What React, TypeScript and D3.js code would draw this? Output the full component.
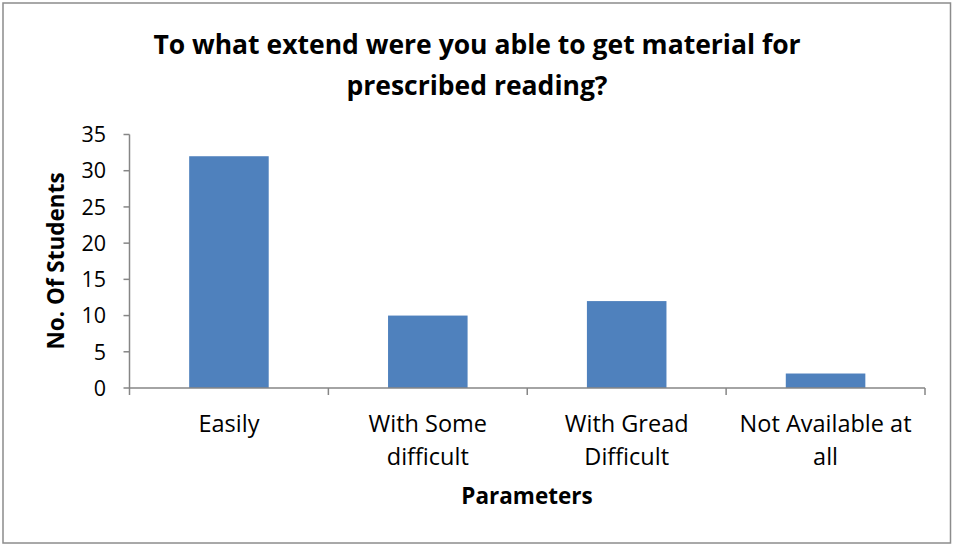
import React from "react";
import * as d3 from "d3";

const categories: string[][] = [
  ["Easily"],
  ["With Some", "difficult"],
  ["With Gread", "Difficult"],
  ["Not Available at", "all"],
];
const values: number[] = [32, 10, 12, 2];
const yTicks: number[] = [0, 5, 10, 15, 20, 25, 30, 35];
const titleLines: string[] = [
  "To what extend were you able to get material for",
  "prescribed reading?",
];
const xTitle = "Parameters";
const yTitle = "No. Of Students";

const W = 953;
const H = 546;
const FONT = "'Open Sans', 'Liberation Sans', sans-serif";

export default function App() {
  const left = 129.5;
  const right = 925;
  const top = 134.5;
  const bottom = 388;

  const x = d3
    .scaleBand<number>()
    .domain(categories.map((_, i) => i))
    .range([left, right])
    .padding(0);
  const y = d3.scaleLinear().domain([0, 35]).range([bottom, top]);
  const barW = x.bandwidth() * 0.4;
  const axisColor = "#868686";

  const boundaries = d3.range(categories.length + 1).map((i) => left + i * x.step());

  return (
    <svg
      width={W}
      height={H}
      style={{ position: "absolute", left: 0, top: 0 }}
      fontFamily={FONT}
    >
      <rect x={0} y={0} width={W} height={H} fill="#fff" />
      <rect x={3} y={3} width={947.5} height={540} fill="#fff" stroke="#8c8c8c" strokeWidth={1.5} />

      {titleLines.map((t, i) => (
        <text
          key={i}
          x={477}
          y={54 + i * 41}
          textAnchor="middle"
          fontSize={26.5}
          fontWeight="bold"
          fill="#000"
        >
          {t}
        </text>
      ))}

      {values.map((v, i) => (
        <rect
          key={i}
          x={(x(i) as number) + (x.bandwidth() - barW) / 2}
          y={y(v)}
          width={barW}
          height={y(0) - y(v)}
          fill="#4f81bd"
        />
      ))}

      <line x1={left} x2={left} y1={top} y2={bottom} stroke={axisColor} strokeWidth={1.5} />
      {yTicks.map((t) => (
        <g key={t}>
          <line x1={left - 6} x2={left} y1={y(t)} y2={y(t)} stroke={axisColor} strokeWidth={1.5} />
          <text x={106} y={y(t)} dy="0.36em" textAnchor="end" fontSize={21.5} fill="#000">
            {t}
          </text>
        </g>
      ))}

      <line x1={left} x2={right} y1={bottom} y2={bottom} stroke={axisColor} strokeWidth={1.5} />
      {boundaries.map((bx, i) => (
        <line key={i} x1={bx} x2={bx} y1={bottom} y2={bottom + 7} stroke={axisColor} strokeWidth={1.5} />
      ))}

      {categories.map((lines, i) => (
        <text
          key={i}
          x={(x(i) as number) + x.bandwidth() / 2}
          y={432}
          textAnchor="middle"
          fontSize={23.5}
          fill="#000"
        >
          {lines.map((l, j) => (
            <tspan key={j} x={(x(i) as number) + x.bandwidth() / 2} dy={j === 0 ? 0 : 33}>
              {l}
            </tspan>
          ))}
        </text>
      ))}

      <text x={527} y={504} textAnchor="middle" fontSize={22.5} fontWeight="bold" fill="#000">
        {xTitle}
      </text>
      <text
        transform={`translate(64, 261) rotate(-90)`}
        textAnchor="middle"
        fontSize={22.5}
        fontWeight="bold"
        fill="#000"
      >
        {yTitle}
      </text>
    </svg>
  );
}
